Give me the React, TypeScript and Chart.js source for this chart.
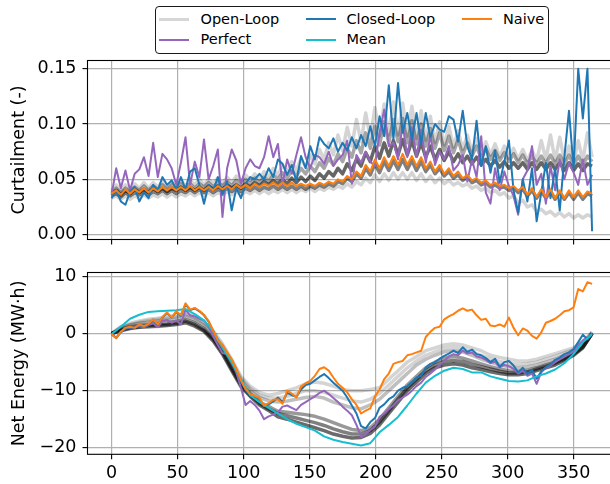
import React, { useEffect, useRef } from "react";
import { Chart, registerables } from "chart.js";

Chart.register(...registerables);

// ---------- categories / ticks ----------
const daysFine: number[] = Array.from({ length: 105 }, (_, i) => i * 3.5);
const daysWeekly: number[] = Array.from({ length: 53 }, (_, i) => i * 7);
const dayTicks = [0, 50, 100, 150, 200, 250, 300, 350];
const curtTicks = [0, 0.05, 0.1, 0.15];
const energyTicks = [-20, -10, 0, 10];

// ---------- curtailment (top) ----------
const curtNaive = [
  0.037, 0.040, 0.036, 0.041, 0.037, 0.041, 0.038, 0.042, 0.038, 0.042,
  0.039, 0.043, 0.040, 0.043, 0.040, 0.043, 0.040, 0.044, 0.040, 0.043,
  0.040, 0.043, 0.040, 0.044, 0.041, 0.044, 0.041, 0.045, 0.042, 0.045,
  0.042, 0.046, 0.043, 0.046, 0.044, 0.047, 0.044, 0.047, 0.044, 0.047,
  0.044, 0.046, 0.044, 0.046, 0.044, 0.047, 0.045, 0.048, 0.046, 0.050,
  0.048, 0.053, 0.050, 0.057, 0.053, 0.063, 0.057, 0.068, 0.060, 0.070,
  0.062, 0.071, 0.063, 0.073, 0.063, 0.071, 0.062, 0.070, 0.060, 0.066,
  0.057, 0.063, 0.055, 0.060, 0.053, 0.057, 0.051, 0.054, 0.049, 0.051,
  0.047, 0.049, 0.045, 0.047, 0.044, 0.045, 0.042, 0.044, 0.040, 0.043,
  0.036, 0.042, 0.034, 0.041, 0.034, 0.041, 0.033, 0.040, 0.033, 0.040,
  0.034, 0.040, 0.034, 0.039, 0.037,
];
const curtClosed = [
  0.033, 0.040, 0.030, 0.027, 0.039, 0.043, 0.030, 0.038, 0.033, 0.045,
  0.040, 0.052, 0.045, 0.049, 0.041, 0.052, 0.041, 0.057, 0.060, 0.045,
  0.028, 0.045, 0.040, 0.052, 0.036, 0.048, 0.022, 0.042, 0.033, 0.046,
  0.052, 0.050, 0.055, 0.050, 0.060, 0.052, 0.068, 0.064, 0.054, 0.063,
  0.048, 0.071, 0.060, 0.080, 0.068, 0.088, 0.082, 0.078, 0.087, 0.075,
  0.083, 0.076, 0.088, 0.078, 0.090, 0.080, 0.098, 0.080, 0.107, 0.089,
  0.135, 0.086, 0.137, 0.092, 0.110, 0.086, 0.110, 0.082, 0.110, 0.088,
  0.100, 0.095, 0.093, 0.107, 0.104, 0.084, 0.112, 0.080, 0.068, 0.103,
  0.062, 0.080, 0.056, 0.076, 0.047, 0.066, 0.085, 0.040, 0.020, 0.050,
  0.030, 0.060, 0.012, 0.038, 0.065, 0.033, 0.060, 0.022, 0.070, 0.112,
  0.060, 0.150, 0.105, 0.150, 0.003,
];
const curtPerfect = [
  0.036, 0.060, 0.042, 0.058, 0.040, 0.055, 0.059, 0.070, 0.053, 0.083,
  0.052, 0.073, 0.068, 0.060, 0.045, 0.065, 0.088, 0.045, 0.066, 0.052,
  0.086, 0.050, 0.062, 0.077, 0.016, 0.060, 0.077, 0.067, 0.046, 0.060,
  0.068, 0.062, 0.060, 0.070, 0.089, 0.070, 0.082, 0.045, 0.068, 0.055,
  0.072, 0.088, 0.070, 0.060, 0.072, 0.070, 0.064, 0.075, 0.062, 0.068,
  0.072, 0.085, 0.046, 0.072, 0.065, 0.075, 0.066, 0.062, 0.092, 0.113,
  0.080, 0.083, 0.068, 0.100, 0.070, 0.097, 0.070, 0.095, 0.065, 0.090,
  0.063, 0.075, 0.068, 0.080, 0.058, 0.063, 0.072, 0.048, 0.068, 0.052,
  0.089, 0.038, 0.028, 0.060, 0.040, 0.057, 0.044, 0.035, 0.018, 0.050,
  0.058, 0.080, 0.045, 0.055, 0.028, 0.062, 0.040, 0.068, 0.050, 0.065,
  0.056, 0.045, 0.068, 0.045, 0.054,
];
const curtOpen1 = [
  0.035, 0.037, 0.034, 0.038, 0.035, 0.038, 0.036, 0.039, 0.036, 0.039,
  0.037, 0.040, 0.037, 0.040, 0.037, 0.040, 0.038, 0.041, 0.038, 0.041,
  0.038, 0.041, 0.038, 0.041, 0.039, 0.042, 0.039, 0.042, 0.039, 0.042,
  0.040, 0.043, 0.040, 0.043, 0.041, 0.044, 0.041, 0.044, 0.041, 0.044,
  0.041, 0.044, 0.041, 0.044, 0.042, 0.045, 0.043, 0.046, 0.044, 0.048,
  0.046, 0.051, 0.048, 0.055, 0.051, 0.060, 0.054, 0.064, 0.056, 0.066,
  0.058, 0.067, 0.059, 0.068, 0.059, 0.067, 0.058, 0.066, 0.057, 0.063,
  0.055, 0.060, 0.053, 0.057, 0.051, 0.054, 0.049, 0.052, 0.047, 0.049,
  0.045, 0.047, 0.043, 0.045, 0.042, 0.043, 0.040, 0.042, 0.038, 0.041,
  0.035, 0.040, 0.033, 0.039, 0.033, 0.039, 0.032, 0.038, 0.032, 0.038,
  0.032, 0.038, 0.032, 0.037, 0.035,
];
const curtOpen2 = [
  0.037, 0.040, 0.036, 0.040, 0.037, 0.041, 0.038, 0.041, 0.038, 0.042,
  0.039, 0.042, 0.039, 0.042, 0.040, 0.043, 0.040, 0.043, 0.040, 0.043,
  0.040, 0.044, 0.041, 0.044, 0.041, 0.045, 0.042, 0.045, 0.042, 0.046,
  0.043, 0.047, 0.044, 0.048, 0.045, 0.049, 0.046, 0.050, 0.046, 0.051,
  0.047, 0.052, 0.048, 0.053, 0.049, 0.055, 0.051, 0.057, 0.053, 0.060,
  0.055, 0.064, 0.058, 0.068, 0.062, 0.074, 0.066, 0.080, 0.069, 0.083,
  0.071, 0.085, 0.072, 0.086, 0.072, 0.085, 0.071, 0.083, 0.070, 0.080,
  0.068, 0.077, 0.067, 0.075, 0.066, 0.073, 0.065, 0.071, 0.064, 0.070,
  0.063, 0.068, 0.062, 0.067, 0.061, 0.066, 0.060, 0.065, 0.060, 0.065,
  0.059, 0.065, 0.059, 0.065, 0.059, 0.065, 0.059, 0.065, 0.058, 0.065,
  0.058, 0.064, 0.058, 0.064, 0.062,
];
const curtOpen3 = [
  0.038, 0.042, 0.038, 0.042, 0.039, 0.043, 0.040, 0.044, 0.040, 0.044,
  0.041, 0.045, 0.041, 0.045, 0.042, 0.046, 0.042, 0.046, 0.042, 0.046,
  0.043, 0.047, 0.043, 0.047, 0.044, 0.048, 0.044, 0.049, 0.045, 0.050,
  0.046, 0.051, 0.047, 0.052, 0.048, 0.054, 0.050, 0.056, 0.051, 0.058,
  0.053, 0.060, 0.055, 0.062, 0.057, 0.065, 0.060, 0.069, 0.063, 0.073,
  0.066, 0.078, 0.070, 0.085, 0.074, 0.092, 0.078, 0.098, 0.081, 0.102,
  0.083, 0.104, 0.084, 0.105, 0.083, 0.103, 0.082, 0.100, 0.080, 0.096,
  0.078, 0.092, 0.076, 0.089, 0.074, 0.086, 0.072, 0.083, 0.071, 0.080,
  0.069, 0.078, 0.068, 0.076, 0.067, 0.074, 0.066, 0.073, 0.065, 0.072,
  0.064, 0.071, 0.064, 0.071, 0.064, 0.072, 0.064, 0.072, 0.064, 0.072,
  0.063, 0.071, 0.063, 0.071, 0.066,
];
const curtOpen4 = [
  0.040, 0.045, 0.040, 0.045, 0.041, 0.046, 0.042, 0.047, 0.042, 0.047,
  0.043, 0.048, 0.043, 0.048, 0.044, 0.049, 0.044, 0.049, 0.045, 0.050,
  0.045, 0.050, 0.046, 0.051, 0.046, 0.052, 0.047, 0.053, 0.048, 0.054,
  0.049, 0.055, 0.050, 0.057, 0.052, 0.060, 0.054, 0.063, 0.056, 0.066,
  0.058, 0.069, 0.061, 0.072, 0.064, 0.077, 0.068, 0.083, 0.072, 0.090,
  0.076, 0.097, 0.080, 0.104, 0.084, 0.110, 0.087, 0.115, 0.089, 0.118,
  0.090, 0.120, 0.090, 0.119, 0.089, 0.116, 0.087, 0.112, 0.085, 0.107,
  0.083, 0.102, 0.081, 0.098, 0.079, 0.094, 0.077, 0.090, 0.075, 0.087,
  0.073, 0.084, 0.072, 0.082, 0.070, 0.080, 0.069, 0.078, 0.068, 0.077,
  0.067, 0.076, 0.067, 0.085, 0.068, 0.090, 0.067, 0.088, 0.067, 0.080,
  0.066, 0.085, 0.067, 0.092, 0.070,
];
const curtOpen5 = [
  0.033, 0.035, 0.032, 0.035, 0.032, 0.035, 0.033, 0.036, 0.033, 0.036,
  0.034, 0.037, 0.034, 0.037, 0.034, 0.037, 0.035, 0.038, 0.035, 0.038,
  0.035, 0.038, 0.035, 0.038, 0.036, 0.039, 0.036, 0.039, 0.036, 0.039,
  0.037, 0.040, 0.037, 0.040, 0.037, 0.040, 0.038, 0.041, 0.038, 0.041,
  0.038, 0.041, 0.039, 0.042, 0.039, 0.042, 0.040, 0.043, 0.041, 0.044,
  0.042, 0.046, 0.043, 0.048, 0.045, 0.051, 0.047, 0.054, 0.048, 0.055,
  0.049, 0.056, 0.050, 0.056, 0.050, 0.056, 0.049, 0.055, 0.048, 0.053,
  0.047, 0.051, 0.046, 0.049, 0.045, 0.047, 0.044, 0.046, 0.042, 0.044,
  0.040, 0.042, 0.038, 0.040, 0.036, 0.038, 0.033, 0.035, 0.029, 0.031,
  0.025, 0.027, 0.021, 0.023, 0.019, 0.021, 0.017, 0.020, 0.016, 0.019,
  0.015, 0.018, 0.015, 0.018, 0.016,
];

// ---------- net energy (bottom) ----------
const energyNaive = [
  -0.1, -0.8, 0.3, 1.0, 1.2, 1.0, 1.6, 1.3, 1.7, 2.5,
  1.6, 2.9, 3.7, 2.8, 3.9, 3.2, 5.3, 4.2, 4.5, 4.0,
  3.3, 2.2, 0.5, -1.2, -2.0, -3.3, -4.5, -6.2, -8.2, -9.7,
  -10.6, -10.9, -11.3, -12.6, -12.2, -11.6, -11.5, -12.3, -10.0, -10.5,
  -11.2, -9.3, -8.7, -8.3, -7.4, -6.2, -5.9, -6.5, -7.7, -8.8,
  -9.5, -10.3, -11.5, -12.5, -14.0, -13.5, -13.1, -11.0, -9.8, -8.0,
  -7.0, -5.3, -5.0, -4.8, -3.8, -3.6, -3.3, -3.0, -0.6, 0.3,
  1.0, 1.2, 2.5, 3.0, 3.4, 4.0, 4.4, 4.0, 4.2, 3.2,
  2.4, 2.6, 1.4, 1.3, 1.6, 1.2, 2.8, 1.0, -0.3, 0.9,
  0.5, -0.4, -0.9, 0.2, 1.9, 2.2, 2.6, 3.2, 3.9, 4.1,
  4.6, 7.8, 7.4, 9.0, 8.7,
];
const energyClosed = [
  -0.1, -0.8, 0.2, 0.9, 1.1, 1.0, 1.5, 1.3, 1.6, 2.4,
  1.6, 2.8, 3.6, 2.8, 3.8, 3.1, 5.1, 4.1, 4.4, 3.9,
  3.2, 2.1, 0.4, -1.3, -2.1, -3.4, -4.6, -6.3, -8.4, -9.9,
  -10.8, -11.0, -11.5, -12.7, -12.4, -11.9, -11.2, -12.0, -10.4, -10.8,
  -11.1, -9.8, -9.0, -8.8, -8.2, -7.6, -7.1, -7.8, -8.6, -9.3,
  -10.0, -11.2, -12.6, -14.0, -16.2, -16.6, -15.5, -14.8, -13.0, -12.4,
  -11.5, -11.0, -10.0, -9.5, -9.2, -8.5, -7.7, -7.4, -6.0, -5.3,
  -5.0, -4.4, -3.9, -3.5, -3.0, -3.4, -2.4, -3.2, -2.8, -3.6,
  -3.8, -4.3, -5.0, -4.4, -5.8, -5.0, -4.8, -5.6, -6.8, -6.0,
  -7.1, -6.4, -7.9, -6.6, -5.9, -5.4, -4.6, -4.2, -3.6, -3.3,
  -2.7, -1.5, -0.2, -1.0, -0.1,
];
const energyPerfect = [
  -0.1, -0.7, 0.3, 0.9, 1.0, 1.1, 1.3, 1.1, 1.5, 1.8,
  1.1, 2.2, 2.4, 1.9, 2.3, 1.6, 4.2, 3.2, 3.0, 2.6,
  2.3, 1.2, -0.5, -2.0, -3.4, -3.6, -4.8, -6.8, -9.5, -12.5,
  -11.8, -12.5, -13.5, -15.0, -14.5, -14.2, -13.8, -12.8, -12.6, -13.0,
  -13.4, -12.5, -12.0, -11.5, -11.0, -10.4, -10.0, -10.6, -11.3, -12.0,
  -12.8, -13.5, -14.3, -16.0, -18.1, -17.6, -16.9, -16.3, -14.6, -14.0,
  -13.2, -12.6, -11.7, -11.2, -10.7, -10.0, -9.2, -8.6, -7.6, -7.0,
  -6.3, -5.5, -4.8, -4.0, -3.6, -3.8, -3.0, -3.5, -3.3, -4.0,
  -4.2, -4.6, -5.2, -4.9, -5.9, -5.5, -5.7, -6.2, -7.0, -6.5,
  -7.4, -7.0, -8.8, -6.8, -6.0, -5.6, -5.0, -4.5, -4.0, -3.6,
  -3.2, -2.0, -1.2, -0.6, 0.0,
];
const energyMean = [
  -0.1, 1.2, 2.6, 3.3, 3.8, 3.9, 4.0, 4.1, 4.3, 3.4,
  2.3, 0.5, -2.5, -5.0, -8.0, -10.8, -12.0, -13.0, -14.0, -15.0,
  -15.8, -16.4, -17.0, -18.0, -18.6, -19.0, -19.3, -19.6, -19.2, -17.3,
  -16.0, -14.6, -12.6, -10.5, -8.6, -7.4, -6.5, -6.0, -6.2, -6.8,
  -6.8, -7.5, -7.9, -8.3, -8.4, -8.2, -7.5, -7.0, -6.3, -5.2,
  -3.6, -1.5, -0.1,
];
const energyOpen1 = [
  0, 1.2, 1.8, 2.2, 2.5, 2.7, 3.0, 3.2, 3.6, 3.0,
  2.0, 0.5, -1.8, -4.5, -7.5, -9.2, -10.3, -10.8, -10.5, -10.0,
  -9.5, -8.8, -8.5, -8.7, -9.2, -9.8, -10.0, -10.0, -9.8, -9.5,
  -8.0, -6.5, -5.0, -4.0, -3.0, -2.5, -2.0, -1.8, -2.0, -2.5,
  -3.0, -3.8, -4.2, -4.5, -4.8, -4.8, -4.5, -4.0, -3.5, -3.0,
  -2.5, -1.5, 0.3,
];
const energyOpen2 = [
  0, 1.0, 1.5, 1.8, 2.0, 2.2, 2.4, 2.6, 3.0, 2.4,
  1.4, -0.3, -2.5, -5.3, -8.2, -10.0, -11.2, -11.8, -12.0, -11.8,
  -11.5, -11.2, -11.0, -11.3, -12.0, -12.5, -13.0, -13.2, -12.5, -11.5,
  -10.0, -8.5, -7.0, -5.5, -4.5, -3.8, -3.2, -3.0, -3.2, -3.8,
  -4.5, -5.0, -5.5, -5.8, -6.0, -5.8, -5.5, -5.0, -4.5, -3.8,
  -3.0, -2.0, 0.0,
];
const energyOpen3 = [
  0, 0.8, 1.2, 1.4, 1.6, 1.8, 1.9, 2.1, 2.5, 1.9,
  0.9, -0.8, -3.0, -6.0, -8.8, -10.5, -12.0, -12.8, -13.6, -13.8,
  -14.0, -14.2, -14.5, -15.0, -15.6, -16.2, -16.8, -17.0, -16.5, -15.0,
  -13.0, -11.0, -9.0, -7.5, -6.0, -5.0, -4.3, -4.0, -4.3, -4.8,
  -5.3, -5.8, -6.2, -6.5, -6.6, -6.4, -6.0, -5.5, -5.0, -4.3,
  -3.5, -2.3, 0.0,
];
const energyOpen4 = [
  0, 0.5, 0.9, 1.1, 1.2, 1.3, 1.4, 1.6, 1.9, 1.3,
  0.4, -1.3, -3.6, -6.5, -9.3, -11.0, -12.5, -13.5, -14.6, -15.0,
  -15.5, -16.0, -16.5, -17.0, -17.6, -18.0, -18.3, -18.2, -17.5, -16.0,
  -14.0, -12.0, -10.0, -8.5, -7.0, -6.0, -5.5, -5.3, -5.5, -6.0,
  -6.3, -6.7, -7.0, -7.2, -7.2, -7.0, -6.5, -6.0, -5.5, -4.7,
  -3.8, -2.5, 0.0,
];
const energyOpen5 = [
  0, 1.1, 1.6, 2.0, 2.3, 2.5, 2.7, 2.9, 3.3, 2.7,
  1.7, 0.1, -2.1, -4.9, -7.8, -9.6, -10.8, -11.3, -11.3, -11.0,
  -10.5, -10.0, -10.0, -10.3, -10.8, -11.3, -11.8, -12.0, -11.5, -10.5,
  -9.0, -7.5, -6.0, -4.8, -3.8, -3.2, -2.6, -2.4, -2.6, -3.2,
  -3.8, -4.4, -4.9, -5.2, -5.4, -5.3, -5.0, -4.5, -4.0, -3.4,
  -2.8, -1.7, 0.2,
];
const energyOpen6 = [
  0, 0.6, 1.0, 1.2, 1.4, 1.5, 1.6, 1.8, 2.2, 1.6,
  0.6, -1.0, -3.3, -6.2, -9.0, -10.8, -12.2, -13.2, -14.0, -14.4,
  -14.8, -15.2, -15.6, -16.1, -16.7, -17.2, -17.6, -17.6, -17.0, -15.5,
  -13.5, -11.5, -9.5, -8.0, -6.5, -5.5, -4.9, -4.7, -4.9, -5.4,
  -5.8, -6.2, -6.6, -6.9, -6.9, -6.7, -6.2, -5.7, -5.2, -4.5,
  -3.6, -2.4, 0.0,
];

// ---------- styling ----------
const FONT = "'DejaVu Sans', sans-serif";
const openColor = (a: number) => `rgba(0,0,0,${a})`;
const C_OPEN_LEGEND = "rgba(0,0,0,0.16)";
const C_PERFECT = "#9467bd";
const C_CLOSED = "#1f77b4";
const C_MEAN = "#17becf";
const C_NAIVE = "#ff7f0e";
const GRID = "#b0b0b0";
const W = 625;
const PLOT_LEFT = 87.5;
const PLOT_RIGHT = 617.5;
const TICK_SIZE = 17.5;

const pts = (xs: number[], ys: number[]) => ys.map((y, i) => ({ x: xs[i], y }));

const line = (data: any[], color: string, width: number) => ({
  data,
  borderColor: color,
  backgroundColor: color,
  borderWidth: width,
  pointRadius: 0,
  pointHoverRadius: 0,
  tension: 0,
  fill: false,
  borderJoinStyle: "round",
  borderCapStyle: "butt",
});

const framePlugin = {
  id: "frame",
  afterDatasetsDraw(chart: any) {
    const { ctx, chartArea: a } = chart;
    ctx.save();
    ctx.strokeStyle = "#000";
    ctx.lineWidth = 1.1;
    ctx.strokeRect(a.left, a.top, a.right - a.left, a.bottom - a.top);
    ctx.restore();
  },
};

const fmtEnergy = (v: number) => (v < 0 ? "\u2212" + Math.abs(v) : String(v));

function makeOptions(o: {
  yMin: number; yMax: number; yTicks: number[]; yFmt: (v: number) => string;
  yTitle: string; showX: boolean; padTop: number; xAxisHeight: number;
}) {
  const font = { family: FONT, size: TICK_SIZE };
  return {
    responsive: false,
    animation: false,
    events: [],
    layout: { padding: { top: o.padTop, left: 0, right: W - PLOT_RIGHT, bottom: 0 } },
    plugins: { legend: { display: false }, tooltip: { enabled: false } },
    scales: {
      x: {
        type: "linear",
        min: -18.25,
        max: 383.25,
        afterBuildTicks: (s: any) => { s.ticks = dayTicks.map((v) => ({ value: v })); },
        afterFit: (s: any) => { s.height = o.xAxisHeight; },
        border: { display: false },
        grid: { color: GRID, lineWidth: 1.2, tickColor: "#000", tickLength: 5, tickWidth: 1.1 },
        ticks: {
          display: o.showX, autoSkip: false, maxRotation: 0, minRotation: 0,
          padding: 4, color: "#000", font,
          callback: (v: number) => String(v),
        },
      },
      y: {
        type: "linear",
        min: o.yMin,
        max: o.yMax,
        afterBuildTicks: (s: any) => { s.ticks = o.yTicks.map((v) => ({ value: v })); },
        afterFit: (s: any) => { s.width = PLOT_LEFT; },
        border: { display: false },
        grid: { color: GRID, lineWidth: 1.2, tickColor: "#000", tickLength: 5, tickWidth: 1.1 },
        ticks: { padding: 6, color: "#000", font, callback: (v: number) => o.yFmt(v) },
        title: {
          display: true, text: o.yTitle, color: "#000", font,
          padding: { top: 9, bottom: 0 },
        },
      },
    },
  };
}

const legendItems = [
  { label: "Open-Loop", color: C_OPEN_LEGEND, w: 3, x: 159, y: 19, tx: 200.5 },
  { label: "Perfect", color: C_PERFECT, w: 2, x: 159, y: 39.5, tx: 200.5 },
  { label: "Closed-Loop", color: C_CLOSED, w: 2, x: 306, y: 19, tx: 346.5 },
  { label: "Mean", color: C_MEAN, w: 2, x: 306, y: 39.5, tx: 346.5 },
  { label: "Naive", color: C_NAIVE, w: 2, x: 462, y: 19, tx: 503 },
];

export default function App() {
  const topRef = useRef<HTMLCanvasElement>(null);
  const botRef = useRef<HTMLCanvasElement>(null);

  useEffect(() => {
    const top = new Chart(topRef.current as HTMLCanvasElement, {
      type: "line",
      data: {
        datasets: [
          line(pts(daysFine, curtNaive), C_NAIVE, 2),
          line(pts(daysFine, curtClosed), C_CLOSED, 2),
          line(pts(daysFine, curtPerfect), C_PERFECT, 2),
          line(pts(daysFine, curtOpen1), openColor(0.5), 3.5),
          line(pts(daysFine, curtOpen2), openColor(0.6), 3.5),
          line(pts(daysFine, curtOpen3), openColor(0.35), 3.5),
          line(pts(daysFine, curtOpen4), openColor(0.17), 3.5),
          line(pts(daysFine, curtOpen5), openColor(0.17), 3.5),
        ],
      } as any,
      options: makeOptions({
        yMin: -0.0044, yMax: 0.1574, yTicks: curtTicks,
        yFmt: (v) => v.toFixed(2), yTitle: "Curtailment (-)",
        showX: false, padTop: 60.5, xAxisHeight: 256 - 241.5,
      }) as any,
      plugins: [framePlugin],
    });
    const bot = new Chart(botRef.current as HTMLCanvasElement, {
      type: "line",
      data: {
        datasets: [
          line(pts(daysFine, energyNaive), C_NAIVE, 2),
          line(pts(daysWeekly, energyMean), C_MEAN, 2),
          line(pts(daysFine, energyClosed), C_CLOSED, 2),
          line(pts(daysFine, energyPerfect), C_PERFECT, 2),
          line(pts(daysWeekly, energyOpen1), openColor(0.17), 3.5),
          line(pts(daysWeekly, energyOpen2), openColor(0.25), 3.5),
          line(pts(daysWeekly, energyOpen3), openColor(0.4), 3.5),
          line(pts(daysWeekly, energyOpen4), openColor(0.58), 3.5),
          line(pts(daysWeekly, energyOpen5), openColor(0.17), 3.5),
          line(pts(daysWeekly, energyOpen6), openColor(0.5), 3.5),
        ],
      } as any,
      options: makeOptions({
        yMin: -21.15, yMax: 10.7, yTicks: energyTicks,
        yFmt: fmtEnergy, yTitle: "Net Energy (MW\u00B7h)",
        showX: true, padTop: 15.7, xAxisHeight: 228 - 198.3,
      }) as any,
      plugins: [framePlugin],
    });
    return () => {
      top.destroy();
      bot.destroy();
    };
  }, []);

  return (
    <div
      style={{
        position: "fixed", left: 0, top: 0, width: 610, height: 484,
        overflow: "hidden", background: "#fff", fontFamily: FONT,
      }}
    >
      <canvas ref={topRef} width={W} height={256}
        style={{ position: "absolute", left: 0, top: 0, width: W, height: 256 }} />
      <canvas ref={botRef} width={W} height={228}
        style={{ position: "absolute", left: 0, top: 256, width: W, height: 228 }} />
      <div
        style={{
          position: "absolute", left: 154.5, top: 5.5, width: 394, height: 48,
          border: "1px solid #1a1a1a", borderRadius: 4, boxSizing: "border-box",
          background: "#fff",
        }}
      />
      {legendItems.map((it) => (
        <React.Fragment key={it.label}>
          <div
            style={{
              position: "absolute", left: it.x, top: it.y - it.w / 2, width: 30,
              height: it.w, background: it.color,
            }}
          />
          <span
            style={{
              position: "absolute", left: it.tx, top: it.y - 8.3, fontSize: 14.5,
              lineHeight: "17px", whiteSpace: "nowrap", color: "#000", fontFamily: FONT,
            }}
          >
            {it.label}
          </span>
        </React.Fragment>
      ))}
    </div>
  );
}
